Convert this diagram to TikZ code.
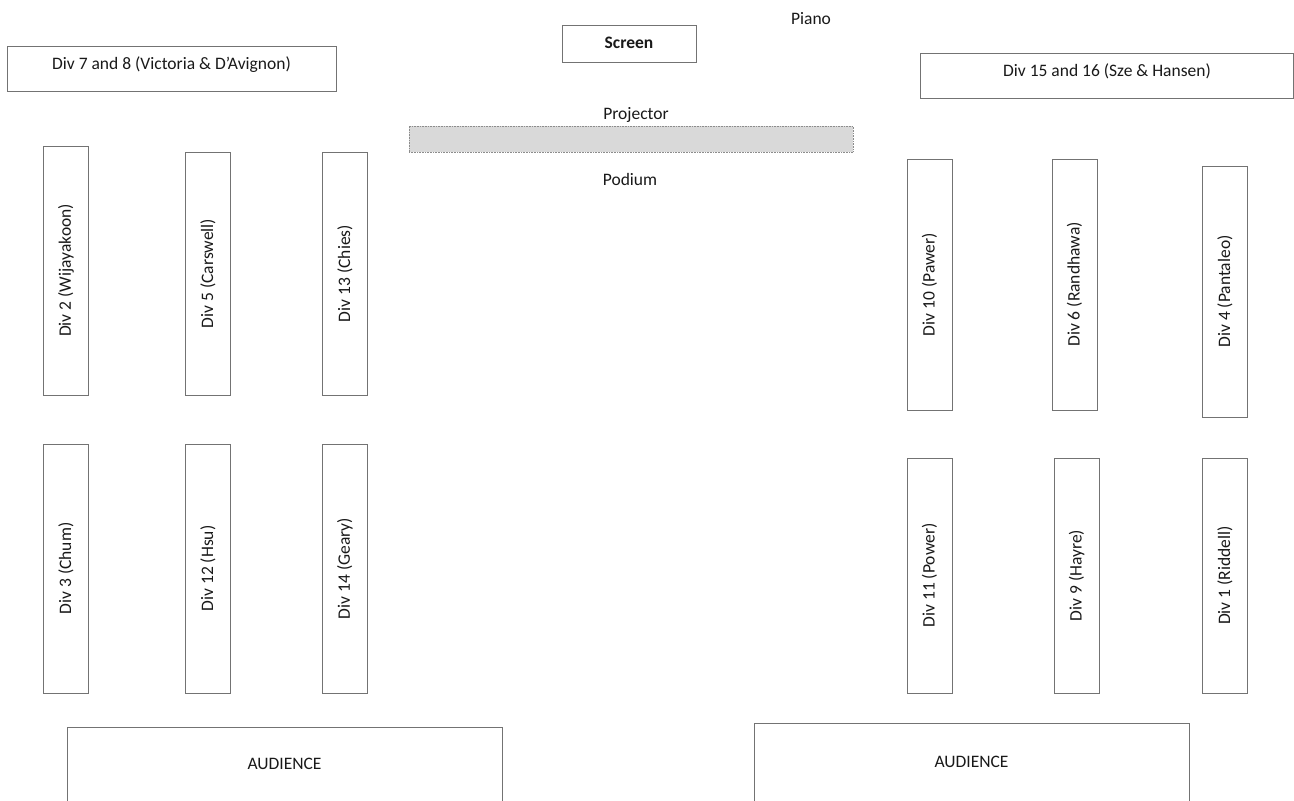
\documentclass[tikz,border=0pt]{standalone}
\usepackage{fontspec}
\setmainfont{Carlito}
\begin{document}
\begin{tikzpicture}[x=1pt,y=-1pt,
  every node/.style={font=\fontsize{17.5}{20}\selectfont, inner sep=0pt, outer sep=0pt, text=black!90},
  linecol/.style={draw=black!55, line width=0.9pt},
  tablebox/.style={linecol, rectangle},
  label/.style={},
]
\useasboundingbox (0,0) rectangle (1294,801);

% top items
\node[tablebox, minimum width=329pt, minimum height=45pt] (d78) at (171.5,68.5) {};
\node (d78t) at (171.5,65) {Div 7 and 8 (Victoria \& D’Avignon)};
\node[tablebox, minimum width=134pt, minimum height=37pt] (screen) at (629,43.5) {};
\node[font=\fontsize{17.5}{20}\selectfont\bfseries] (screent) at (629,43) {Screen};
\node[label] (piano) at (811,19) {Piano};
\node[tablebox, minimum width=373pt, minimum height=45pt] (d1516) at (1106.5,75.5) {};
\node (d1516t) at (1107,71) {Div 15 and 16 (Sze \& Hansen)};
\node[label] (proj) at (636,115) {Projector};
\node[draw=black!45, densely dotted, line width=0.6pt, fill=black!15, rectangle, minimum width=444pt, minimum height=26pt] (bar) at (631,139) {};
\node[label] (podium) at (630,179) {Podium};

% left tables top row
\node[tablebox, minimum width=45pt, minimum height=249pt] (d2) at (66,270.5) {};
\node[rotate=90] (d2t) at (d2) {Div 2 (Wijayakoon)};
\node[tablebox, minimum width=45pt, minimum height=243pt] (d5) at (208,273.5) {};
\node[rotate=90] (d5t) at (d5) {Div 5 (Carswell)};
\node[tablebox, minimum width=45pt, minimum height=243pt] (d13) at (345,273.5) {};
\node[rotate=90] (d13t) at (d13) {Div 13 (Chies)};

% left tables bottom row
\node[tablebox, minimum width=45pt, minimum height=249pt] (d3) at (66,568.5) {};
\node[rotate=90] (d3t) at (d3) {Div 3 (Chum)};
\node[tablebox, minimum width=45pt, minimum height=249pt] (d12) at (208,568.5) {};
\node[rotate=90] (d12t) at (d12) {Div 12 (Hsu)};
\node[tablebox, minimum width=45pt, minimum height=249pt] (d14) at (345,568.5) {};
\node[rotate=90] (d14t) at (d14) {Div 14 (Geary)};

% right tables top row
\node[tablebox, minimum width=45pt, minimum height=251pt] (d10) at (929.5,284.5) {};
\node[rotate=90] (d10t) at (d10) {Div 10 (Pawer)};
\node[tablebox, minimum width=45pt, minimum height=251pt] (d6) at (1074.5,284.5) {};
\node[rotate=90] (d6t) at (d6) {Div 6 (Randhawa)};
\node[tablebox, minimum width=45pt, minimum height=251pt] (d4) at (1225,291.5) {};
\node[rotate=90] (d4t) at (d4) {Div 4 (Pantaleo)};

% right tables bottom row
\node[tablebox, minimum width=45pt, minimum height=235pt] (d11) at (929.5,575.5) {};
\node[rotate=90] (d11t) at (d11) {Div 11 (Power)};
\node[tablebox, minimum width=45pt, minimum height=235pt] (d9) at (1076.5,575.5) {};
\node[rotate=90] (d9t) at (d9) {Div 9 (Hayre)};
\node[tablebox, minimum width=45pt, minimum height=235pt] (d1) at (1225,575.5) {};
\node[rotate=90] (d1t) at (d1) {Div 1 (Riddell)};

% audience areas (open at the bottom edge)
\node[minimum width=435pt, minimum height=74pt] (audl) at (284.5,764) {AUDIENCE};
\draw[linecol] (audl.south west) -- (audl.north west) -- (audl.north east) -- (audl.south east);
\node[minimum width=435pt, minimum height=78pt] (audr) at (971.5,762) {AUDIENCE};
\draw[linecol] (audr.south west) -- (audr.north west) -- (audr.north east) -- (audr.south east);
\end{tikzpicture}
\end{document}
